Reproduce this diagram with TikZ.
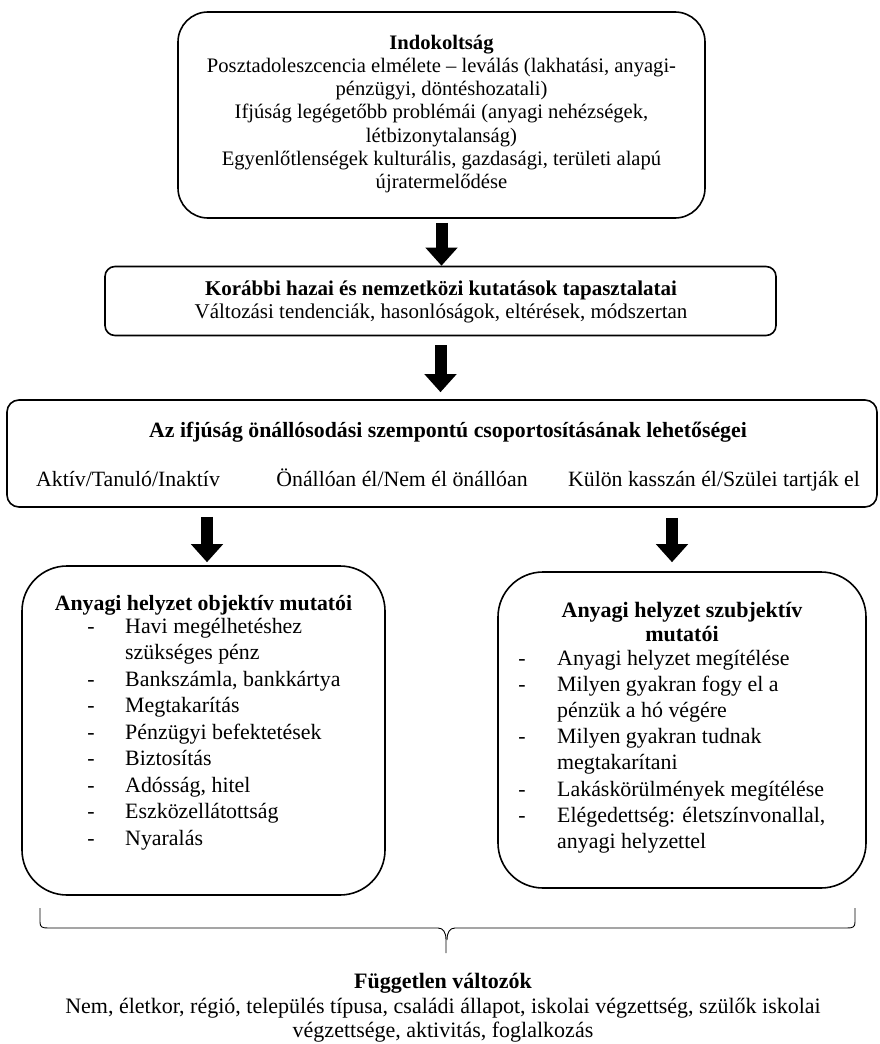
\documentclass[tikz,border=0pt]{standalone}
\usepackage{fontspec}
\setmainfont{Liberation Serif}
\usetikzlibrary{arrows.meta,calc}
\begin{document}
\begin{tikzpicture}[x=1pt,y=-1pt,
  box/.style={draw,line width=1.6pt,rounded corners=#1,inner sep=0pt},
  txt/.style={font=\fontsize{22}{24.5}\selectfont, align=center, inner sep=0pt},
  one/.style={font=\fontsize{21.8}{24.5}\selectfont, inner sep=0pt, text height=15pt, text depth=5pt},
  li/.style={font=\fontsize{21.9}{24.5}\selectfont, anchor=west, inner sep=0pt, text height=15pt, text depth=5pt},
  dsh/.style={font=\fontsize{21.9}{24.5}\selectfont, inner sep=0pt, text height=15pt, text depth=5pt},
  bigarrow/.style={line width=12pt, -{Triangle[width=31pt,length=18pt]}},
]
\useasboundingbox (0,0) rectangle (880,1044);

% boxes
\node[box=30pt, minimum width=527pt, minimum height=206pt] (b1) at (441.5,115) {};
\node[font=\fontsize{20.6}{23.3}\selectfont, align=center, inner sep=0pt] (b1t) at (441.5,114)
  {\textbf{Indokoltság}\\
   Posztadoleszcencia elmélete – leválás (lakhatási, anyagi-\\
   pénzügyi, döntéshozatali)\\
   Ifjúság legégetőbb problémái (anyagi nehézségek,\\
   létbizonytalanság)\\
   Egyenlőtlenségek kulturális, gazdasági, területi alapú\\
   újratermelődése};

\node[box=10pt, minimum width=671pt, minimum height=69pt] (b2) at (440.5,301) {};
\node[font=\fontsize{21}{23.5}\selectfont, align=center, inner sep=0pt] (b2t) at (441,302)
  {\textbf{Korábbi hazai és nemzetközi kutatások tapasztalatai}\\
   Változási tendenciák, hasonlóságok, eltérések, módszertan};

\node[box=12pt, minimum width=870pt, minimum height=107pt] (b3) at (442,453.5) {};
\node[one] (b3t) at (448,432) {\textbf{Az ifjúság önállósodási szempontú csoportosításának lehetőségei}};
\node[one] (g1) at (128,481) {Aktív/Tanuló/Inaktív};
\node[one] (g2) at (402,481) {Önállóan él/Nem él önállóan};
\node[one] (g3) at (714,481) {Külön kasszán él/Szülei tartják el};

\node[box=45pt, minimum width=363pt, minimum height=329pt] (L) at (203.5,730.5) {};
\node[box=45pt, minimum width=368pt, minimum height=316pt] (R) at (682,730) {};

% left box content
\node[one] (Lt) at (203.5,605) {\textbf{Anyagi helyzet objektív mutatói}};
\foreach \y/\t/\d in {628/Havi megélhetéshez/1, 654.5/szükséges pénz/0, 681/{Bankszámla, bankkártya}/1,
  707.5/Megtakarítás/1, 734/Pénzügyi befektetések/1, 760.5/Biztosítás/1, 787/{Adósság, hitel}/1,
  813.5/Eszközellátottság/1, 840/Nyaralás/1}{
  \node[li] at (125,\y) {\t};
  \ifnum\d=1 \node[dsh] at (91,\y) {-};\fi
}

% right box content
\node[txt] (Rt) at (682,622) {\textbf{Anyagi helyzet szubjektív}\\\textbf{mutatói}};
\foreach \y/\t/\d in {660/Anyagi helyzet megítélése/1, 686.2/Milyen gyakran fogy el a/1,
  712.4/pénzük a hó végére/0, 738.6/Milyen gyakran tudnak/1, 764.8/megtakarítani/0,
  791/Lakáskörülmények megítélése/1, 817.2/{Elégedettség: életszínvonallal,}/1,
  843.4/{anyagi helyzettel}/0}{
  \node[li] at (557,\y) {\t};
  \ifnum\d=1 \node[dsh] at (522,\y) {-};\fi
}

% arrows
\coordinate (aL) at (207,0);
\coordinate (aR) at (672,0);
\draw[bigarrow, shorten <=4pt] (b1.south) -- (b1.south |- b2.north);
\draw[bigarrow, shorten <=9pt, shorten >=7pt] (b2.south) -- (b2.south |- b3.north);
\draw[bigarrow, shorten <=9pt, shorten >=3pt] (aL |- b3.south) -- (aL |- L.north);
\draw[bigarrow, shorten <=10pt, shorten >=9pt] (aR |- b3.south) -- (aR |- R.north);

% brace
\draw[line width=0.9pt]
  (40,908) -- (40,922) .. controls (40,927) and (42,928) .. (48,928)
  -- (438,928) .. controls (443,928) and (446,932) .. (446,940) -- (446,953);
\draw[line width=0.9pt]
  (855,908) -- (855,922) .. controls (855,927) and (853,928) .. (847,928)
  -- (455,928) .. controls (450,928) and (447,932) .. (447,940);

% bottom text
\node[txt] (fv) at (443,1008)
  {\textbf{Független változók}\\
   Nem, életkor, régió, település típusa, családi állapot, iskolai végzettség, szülők iskolai\\
   végzettsége, aktivitás, foglalkozás};
\end{tikzpicture}
\end{document}
